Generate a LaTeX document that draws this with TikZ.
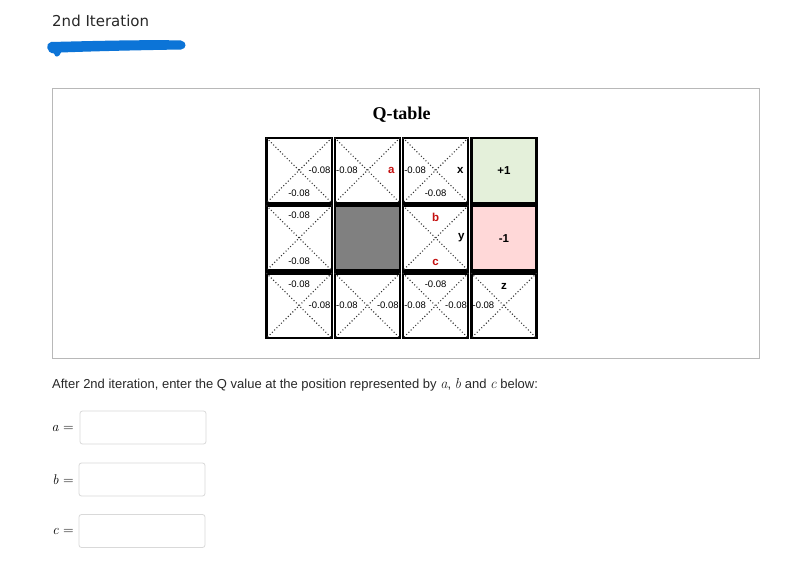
\documentclass[tikz,border=0pt]{standalone}
\usepackage{fontspec}
\setmainfont{DejaVu Sans}
\newfontfamily\cellfont{Liberation Sans}
\newfontfamily\titlefont{Liberation Serif}
\newfontfamily\mathlike{Latin Modern Roman}
\newcommand{\mv}[1]{{\mathlike\itshape #1}}
\definecolor{scribble}{RGB}{12,116,215}
\definecolor{goalgreen}{RGB}{228,240,218}
\definecolor{pitpink}{RGB}{255,216,216}
\definecolor{wallgray}{RGB}{128,128,128}
\definecolor{letterred}{RGB}{196,16,16}
\definecolor{uitext}{RGB}{40,40,40}
\tikzset{
  cellbox/.style={draw=black, line width=2.4pt, minimum width=65.2pt, minimum height=64.8pt, inner sep=0pt},
  diag/.style={draw=black!80, line width=1.1pt, dash pattern=on 1pt off 2.2pt, shorten <=1.6pt, shorten >=1.6pt},
  val/.style={font=\cellfont\fontsize{9.5}{10}\selectfont, inner sep=0.5pt},
  redlet/.style={font=\cellfont\bfseries\fontsize{11.5}{12}\selectfont, text=letterred, inner sep=0.5pt},
  blklet/.style={font=\cellfont\bfseries\fontsize{11.5}{12}\selectfont, text=black, inner sep=0.5pt},
  inbox/.style={draw=black!15, line width=0.8pt, rounded corners=2.5pt, minimum width=126pt, minimum height=33pt, inner sep=0pt},
  uilabel/.style={font=\cellfont\fontsize{13}{15}\selectfont, text=uitext, inner sep=0pt},
  eqlabel/.style={font=\mathlike\fontsize{14}{16}\selectfont, text=black, inner sep=0pt}
}
\begin{document}
\begin{tikzpicture}[x=1pt,y=-1pt]
\useasboundingbox (0,0) rectangle (807,574);
\fill[white] (0,0) rectangle (807,574);

% heading
\node[anchor=west, inner sep=0pt, text=uitext, font=\fontsize{15}{17}\selectfont] (title) at (52,21) {2nd Iteration};
\fill[scribble] (51,42) .. controls (90,41) and (150,39.5) .. (181,40.5)
  .. controls (187,41.5) and (187,49) .. (181,49.5)
  .. controls (150,50) and (100,51) .. (61,52.5)
  .. controls (59,57.5) and (55,58) .. (54,53.5)
  .. controls (46,53) and (45,43) .. (51,42) -- cycle;

% frame
\node[draw=black!28, line width=0.9pt, minimum width=707pt, minimum height=270pt, inner sep=0pt] (frame) at (405.5,223) {};
\node[font=\titlefont\bfseries\fontsize{18}{20}\selectfont, inner sep=0pt] (qt) at (401.5,115) {Q-table};

% cells: centres x 299.1, 367.4, 435.6, 503.9 ; y 170.35, 238.05, 305.7
\node[cellbox] (c11) at (299.1,170.35) {};
\node[cellbox] (c12) at (367.4,170.35) {};
\node[cellbox] (c13) at (435.6,170.35) {};
\node[cellbox, fill=goalgreen] (c14) at (503.9,170.35) {};
\node[cellbox] (c21) at (299.1,238.05) {};
\node[cellbox, fill=wallgray] (c22) at (367.4,238.05) {};
\node[cellbox] (c23) at (435.6,238.05) {};
\node[cellbox, fill=pitpink] (c24) at (503.9,238.05) {};
\node[cellbox] (c31) at (299.1,305.7) {};
\node[cellbox] (c32) at (367.4,305.7) {};
\node[cellbox] (c33) at (435.6,305.7) {};
\node[cellbox] (c34) at (503.9,305.7) {};

\foreach \c in {c11,c12,c13,c21,c23,c31,c32,c33,c34}{
  \draw[diag] (\c.north west) -- (\c.south east);
  \draw[diag] (\c.north east) -- (\c.south west);
}

% row 1
\node[val, anchor=east] (c11e) at ([xshift=-1.8pt]c11.east) {-0.08};
\node[val] (c11s) at ([yshift=11pt]c11.south) {-0.08};
\node[val, anchor=west] (c12w) at ([xshift=1.8pt]c12.west) {-0.08};
\node[redlet] (c12e) at ([xshift=-10pt]c12.east) {a};
\node[val, anchor=west] (c13w) at ([xshift=1.8pt]c13.west) {-0.08};
\node[blklet] (c13e) at ([xshift=-9pt]c13.east) {x};
\node[val] (c13s) at ([yshift=11pt]c13.south) {-0.08};
\node[blklet] (c14v) at (c14.center) {+1};

% row 2
\node[val] (c21n) at ([yshift=-11pt]c21.north) {-0.08};
\node[val] (c21s) at ([yshift=10pt]c21.south) {-0.08};
\node[redlet] (c23n) at ([yshift=-13pt]c23.north) {b};
\node[blklet] (c23e) at ([xshift=-8pt]c23.east) {y};
\node[redlet] (c23s) at ([yshift=9pt]c23.south) {c};
\node[blklet] (c24v) at (c24.center) {-1};

% row 3
\node[val] (c31n) at ([yshift=-12pt]c31.north) {-0.08};
\node[val, anchor=east] (c31e) at ([xshift=-1.8pt]c31.east) {-0.08};
\node[val, anchor=west] (c32w) at ([xshift=1.8pt]c32.west) {-0.08};
\node[val, anchor=east] (c32e) at ([xshift=-1.8pt]c32.east) {-0.08};
\node[val] (c33n) at ([yshift=-12pt]c33.north) {-0.08};
\node[val, anchor=west] (c33w) at ([xshift=1.8pt]c33.west) {-0.08};
\node[val, anchor=east] (c33e) at ([xshift=-1.8pt]c33.east) {-0.08};
\node[blklet] (c34n) at ([yshift=-14pt]c34.north) {z};
\node[val, anchor=west] (c34w) at ([xshift=1.8pt]c34.west) {-0.08};

% question
\node[uilabel, anchor=west] (q) at (52,385) {After 2nd iteration, enter the Q value at the position represented by {\fontsize{14.5}{15}\selectfont\mv{a}}, {\fontsize{14.5}{15}\selectfont\mv{b}} and {\fontsize{14.5}{15}\selectfont\mv{c}} below:};

% inputs
\node[eqlabel, anchor=east] (la) at (74,428) {\mv{a} =};
\node[inbox] (ba) at (143,427.5) {};
\node[eqlabel, anchor=east] (lb) at (74,479.5) {\mv{b} =};
\node[inbox] (bb) at (142,479.5) {};
\node[eqlabel, anchor=east] (lc) at (74,531) {\mv{c} =};
\node[inbox] (bc) at (142,531) {};
\end{tikzpicture}
\end{document}
